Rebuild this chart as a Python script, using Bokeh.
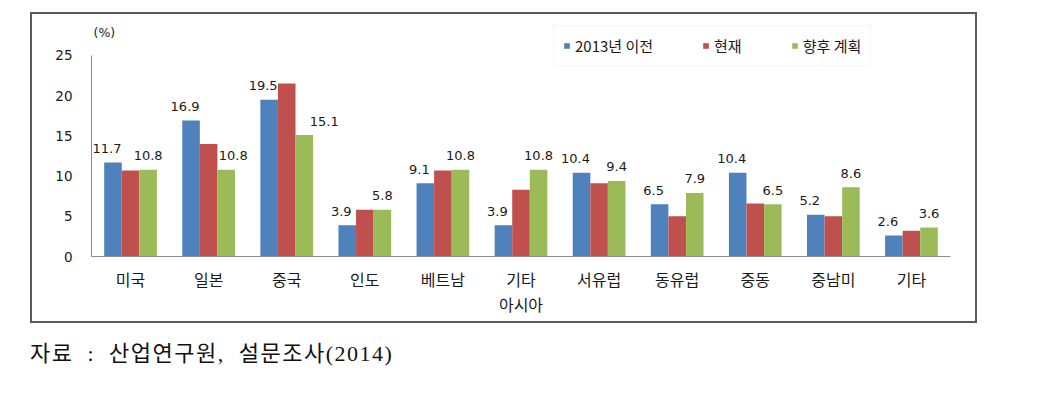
from bokeh.plotting import figure
from bokeh.models import ColumnDataSource, FactorRange, Range1d, Legend, LegendItem, Label, Div
from bokeh.transform import dodge
from bokeh.layouts import column
from bokeh.core.properties import value
from bokeh.embed import file_html
from bokeh.resources import INLINE

# ---- data ----
categories = ["미국", "일본", "중국", "인도", "베트남", "기타\n아시아", "서유럽", "동유럽", "중동", "중남미", "기타"]
before_2013 = [11.7, 16.9, 19.5, 3.9, 9.1, 3.9, 10.4, 6.5, 10.4, 5.2, 2.6]
current = [10.7, 14.0, 21.5, 5.8, 10.7, 8.3, 9.1, 5.0, 6.6, 5.0, 3.2]
future_plan = [10.8, 10.8, 15.1, 5.8, 10.8, 10.8, 9.4, 7.9, 6.5, 8.6, 3.6]
series_names = ["2013년 이전", "현재", "향후 계획"]
y_ticks = [0, 5, 10, 15, 20, 25]
y_unit = "(%)"
source_note = "자료  :  산업연구원,  설문조사(2014)"

# ---- style ----
BLUE, RED, GREEN = "#4F81BD", "#C0504D", "#9BBB59"
KR = "Noto Sans CJK KR"
NUM = "DejaVu Sans"
TXT = "#1a1a1a"
AXIS = "#8c8c8c"
blue_label_dx = [-6] * len(categories)
green_label_dx = [0, 7, 20, 0, 0, 0, 0, 0, 0, 0, 0]

src = ColumnDataSource(dict(
    cat=categories,
    b=before_2013,
    c=current,
    f=future_plan,
    bl=[f"{v:.1f}" for v in before_2013],
    fl=[f"{v:.1f}" for v in future_plan],
    bdx=blue_label_dx,
    fdx=green_label_dx,
))

p = figure(
    x_range=FactorRange(*categories, range_padding=0),
    y_range=Range1d(0, 29.35),
    width=947, height=311,
    output_backend="svg", toolbar_location=None,
    min_border_left=59, min_border_right=29, min_border_top=6, min_border_bottom=69,
    margin=(12, 0, 0, 30),
    styles={"border": "2px solid #5a5a5a"},
)
p.outline_line_color = None
p.xgrid.grid_line_color = None
p.ygrid.grid_line_color = None
p.background_fill_color = "white"
p.border_fill_color = "white"

W = 0.225
r1 = p.vbar(x=dodge("cat", -W, range=p.x_range), top="b", width=W, source=src,
            fill_color=BLUE, line_color=None)
r2 = p.vbar(x=dodge("cat", 0, range=p.x_range), top="c", width=W, source=src,
            fill_color=RED, line_color=None)
r3 = p.vbar(x=dodge("cat", W, range=p.x_range), top="f", width=W, source=src,
            fill_color=GREEN, line_color=None)

p.text(x=dodge("cat", -W, range=p.x_range), y="b", text="bl", source=src,
       x_offset="bdx", y_offset=-14, text_align="center", text_baseline="middle",
       text_font=value(NUM), text_font_size="13px", text_color=TXT)
p.text(x=dodge("cat", W, range=p.x_range), y="f", text="fl", source=src,
       x_offset="fdx", y_offset=-14, text_align="center", text_baseline="middle",
       text_font=value(NUM), text_font_size="13px", text_color=TXT)

# axes
p.yaxis.ticker = y_ticks
p.yaxis.bounds = (0, 25)
p.yaxis.major_tick_line_color = None
p.yaxis.minor_tick_line_color = None
p.yaxis.major_tick_out = 0
p.yaxis.major_tick_in = 0
p.yaxis.major_label_standoff = 19
p.yaxis.axis_line_color = AXIS
p.yaxis.major_label_text_font = NUM
p.yaxis.major_label_text_font_size = "13.5px"
p.yaxis.major_label_text_color = TXT

p.xaxis.major_tick_line_color = None
p.xaxis.minor_tick_line_color = None
p.xaxis.major_tick_out = 0
p.xaxis.major_tick_in = 0
p.xaxis.major_label_standoff = 10
p.xaxis.axis_line_color = AXIS
p.xaxis.major_label_text_font = KR
p.xaxis.major_label_text_font_size = "16px"
p.xaxis.major_label_text_color = TXT
p.xaxis.major_label_text_line_height = 1.08

p.add_layout(Label(x=2, y=224, x_units="screen", y_units="screen", text=y_unit,
                   text_align="left", text_baseline="middle",
                   text_font=NUM, text_font_size="12.5px", text_color=TXT))

legend = Legend(
    items=[LegendItem(label=series_names[0], renderers=[r1]),
           LegendItem(label=series_names[1], renderers=[r2]),
           LegendItem(label=series_names[2], renderers=[r3])],
    orientation="horizontal", location=(462, 190),
    glyph_width=7, glyph_height=7, label_standoff=5, spacing=49, padding=9,
    border_line_color="#eeeeee", background_fill_color="white", background_fill_alpha=1,
    label_text_font=KR, label_text_font_size="15px", label_text_color=TXT,
)
p.add_layout(legend)

cap = Div(text=source_note, margin=(18, 0, 0, 30),
          styles={"font-family": "'Liberation Serif', 'Noto Sans CJK KR', serif",
                  "font-size": "22px", "color": "#111111", "white-space": "pre",
                  "line-height": "26px", "letter-spacing": "1.5px"})

layout = column(p, cap, spacing=0)
open("out.html", "w").write(file_html(layout, INLINE))
